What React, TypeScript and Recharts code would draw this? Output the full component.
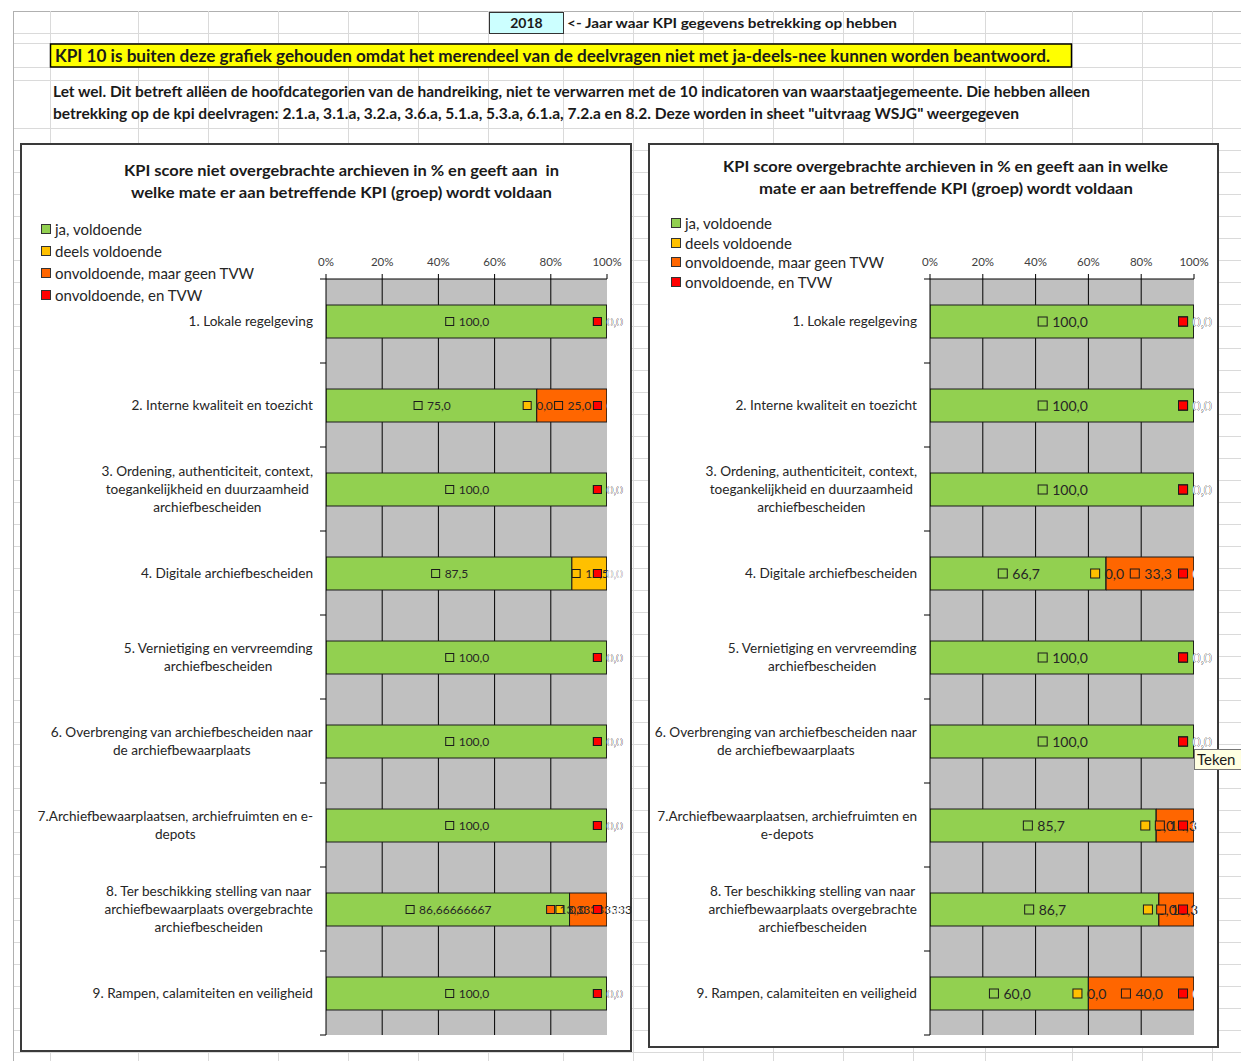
import React from 'react';
import { BarChart, Bar, XAxis, YAxis, CartesianGrid, LabelList, Legend } from 'recharts';

// ---------- data ----------
const categoriesLeft = [
  '1. Lokale regelgeving',
  '2. Interne kwaliteit en toezicht',
  '3. Ordening, authenticiteit, context,\ntoegankelijkheid en duurzaamheid\narchiefbescheiden',
  '4. Digitale archiefbescheiden',
  '5. Vernietiging en vervreemding\narchiefbescheiden',
  '6. Overbrenging van archiefbescheiden naar\nde archiefbewaarplaats',
  '7.Archiefbewaarplaatsen, archiefruimten en e-\ndepots',
  '8. Ter beschikking stelling van naar\narchiefbewaarplaats overgebrachte\narchiefbescheiden',
  '9. Rampen, calamiteiten en veiligheid',
];
const categoriesRight = [
  '1. Lokale regelgeving',
  '2. Interne kwaliteit en toezicht',
  '3. Ordening, authenticiteit, context,\ntoegankelijkheid en duurzaamheid\narchiefbescheiden',
  '4. Digitale archiefbescheiden',
  '5. Vernietiging en vervreemding\narchiefbescheiden',
  '6. Overbrenging van archiefbescheiden naar\nde archiefbewaarplaats',
  '7.Archiefbewaarplaatsen, archiefruimten en\ne-depots',
  '8. Ter beschikking stelling van naar\narchiefbewaarplaats overgebrachte\narchiefbescheiden',
  '9. Rampen, calamiteiten en veiligheid',
];

const jaLeft = [100, 75, 100, 87.5, 100, 100, 100, 86.66666667, 100];
const deelsLeft = [0, 0, 0, 12.5, 0, 0, 0, 0, 0];
const onvLeft = [0, 25, 0, 0, 0, 0, 0, 13.33333333, 0];
const tvwLeft = [0, 0, 0, 0, 0, 0, 0, 0, 0];

const jaRight = [100, 100, 100, 66.7, 100, 100, 85.7, 86.7, 60];
const deelsRight = [0, 0, 0, 0, 0, 0, 0, 0, 0];
const onvRight = [0, 0, 0, 33.3, 0, 0, 14.3, 13.3, 40];
const tvwRight = [0, 0, 0, 0, 0, 0, 0, 0, 0];

const seriesKeys = ['ja', 'deels', 'onv', 'tvw'];
const seriesNames = ['ja, voldoende', 'deels voldoende', 'onvoldoende, maar geen TVW', 'onvoldoende, en TVW'];
const seriesColors = ['#92d050', '#ffc000', '#ff6600', '#ff0000'];
const labelTextColors = ['#262626', '#262626', '#262626', '#ffffff'];

const axisTicks = [0, 20, 40, 60, 80, 100];
const gridValues = [20, 40, 60, 80];

const titleLeft = ['KPI score niet overgebrachte archieven in % en geeft aan  in', 'welke mate er aan betreffende KPI (groep) wordt voldaan'];
const titleRight = ['KPI score overgebrachte archieven in % en geeft aan in welke', 'mate er aan betreffende KPI (groep) wordt voldaan'];

const yearText = '2018';
const yearNote = '<- Jaar waar KPI gegevens betrekking op hebben';
const kpiNote = 'KPI 10 is buiten deze grafiek gehouden omdat het merendeel van de deelvragen niet met ja-deels-nee kunnen worden beantwoord.';
const noteLines = [
  'Let wel. Dit betreft allëen de hoofdcategorien van de handreiking, niet te verwarren met de 10 indicatoren van waarstaatjegemeente. Die hebben alleen',
  'betrekking op de kpi deelvragen: 2.1.a, 3.1.a, 3.2.a, 3.6.a, 5.1.a, 5.3.a, 6.1.a, 7.2.a en 8.2. Deze worden in sheet "uitvraag WSJG" weergegeven',
];
const tooltipText = 'Teken';

const buildRows = (cats: string[], a: number[], b: number[], c: number[], d: number[]) =>
  cats.map((name, i) => ({ name, ja: a[i], deels: b[i], onv: c[i], tvw: d[i] }));

const rowsLeft = buildRows(categoriesLeft, jaLeft, deelsLeft, onvLeft, tvwLeft);
const rowsRight = buildRows(categoriesRight, jaRight, deelsRight, onvRight, tvwRight);

// ---------- helpers ----------
const FONT = 'Lato, "DejaVu Sans", sans-serif';
let ctx: any = null;
function measure(text: string, font: string) {
  if (!ctx) ctx = document.createElement('canvas').getContext('2d');
  ctx.font = font;
  return ctx.measureText(text).width;
}

function fmt(v: number) {
  const r = Math.round(v * 10);
  const s = Math.abs(v * 10 - r) < 1e-6 ? v.toFixed(1) : String(v);
  return s.replace('.', ',');
}

function makeLabel(color: string, textColor: string, fs: number, sq: number) {
  return (props: any) => {
    const vb = props.viewBox || {};
    const x = Number(props.x ?? vb.x);
    const y = Number(props.y ?? vb.y);
    const w = Number(props.width ?? vb.width ?? 0);
    const h = Number(props.height ?? vb.height ?? 0);
    let v: any = props.value;
    if (Array.isArray(v)) v = v[1] - v[0];
    const text = fmt(Number(v));
    const gap = 5;
    const tw = measure(text, `${fs}px Lato`);
    const total = sq + gap + tw;
    const cx = x + w / 2 + 1;
    const cy = y + h / 2;
    const left = cx - total / 2;
    return (
      <g>
        <rect x={left} y={cy - sq / 2} width={sq} height={sq} fill={color} stroke="#1a1a1a" strokeWidth={1} />
        <text x={left + sq + gap} y={cy + fs * 0.36} fontSize={fs} fill={textColor} fontFamily={FONT}>
          {text}
        </text>
      </g>
    );
  };
}

function CategoryTick(props: any) {
  const { x, y, payload, index, fontSize, bandHalf, lineH } = props;
  const lines = String(payload.value).split('\n');
  const font = `${fontSize}px Lato`;
  const maxW = Math.max(...lines.map((l) => measure(l, font)));
  const right = x - 5;
  const cx = right - maxW / 2;
  const startY = y - ((lines.length - 1) * lineH) / 2;
  const axisX = x + 8;
  return (
    <g>
      {index === 0 && <line x1={axisX - 6} x2={axisX} y1={y - bandHalf} y2={y - bandHalf} stroke="#000" />}
      <line x1={axisX - 6} x2={axisX} y1={y + bandHalf} y2={y + bandHalf} stroke="#000" />
      <text textAnchor="middle" fontSize={fontSize} fill="#262626" fontFamily={FONT}>
        {lines.map((l, i) => (
          <tspan key={i} x={cx} y={startY + i * lineH + fontSize * 0.36}>
            {l}
          </tspan>
        ))}
      </text>
    </g>
  );
}

function LegendBox(props: any) {
  const { payload, fontSize, rowH } = props;
  const items = [...(payload || [])].sort((a: any, b: any) => seriesNames.indexOf(a.value) - seriesNames.indexOf(b.value));
  return (
    <div>
      {items.map((p: any, i: number) => (
        <div
          key={i}
          style={{
            display: 'flex',
            alignItems: 'center',
            height: rowH,
            fontSize,
            fontFamily: FONT,
            color: '#262626',
            whiteSpace: 'nowrap',
          }}
        >
          <span
            style={{
              display: 'inline-block',
              width: 8,
              height: 8,
              background: p.color,
              border: '1px solid #333',
              marginRight: 4,
            }}
          />
          {p.value}
        </div>
      ))}
    </div>
  );
}

type PanelProps = {
  rows: any[];
  width: number;
  height: number;
  yWidth: number;
  margin: any;
  labelFs: number;
  sq: number;
  legendPos: { left: number; top: number };
  legendFs: number;
  legendRowH: number;
  catFs: number;
};

function Panel(p: PanelProps) {
  const plotH = p.height - p.margin.top - 30 - p.margin.bottom;
  const bandHalf = plotH / p.rows.length / 2;
  return (
    <BarChart width={p.width} height={p.height} data={p.rows} layout="vertical" margin={p.margin} barSize={33}>
      <CartesianGrid
        horizontal={false}
        vertical={true}
        verticalValues={gridValues}
        stroke="#000"
        strokeWidth={1}
        fill="#c0c0c0"
        fillOpacity={1}
      />
      <XAxis
        type="number"
        orientation="top"
        domain={[0, 100]}
        ticks={axisTicks}
        interval={0}
        height={30}
        tickSize={5}
        tickMargin={8}
        tickFormatter={(v: number) => `${v}%`}
        axisLine={{ stroke: '#000' }}
        tickLine={{ stroke: '#000' }}
        tick={{ fontSize: 11.5, fill: '#404040', fontFamily: FONT }}
        allowDataOverflow={true}
      />
      <YAxis
        type="category"
        dataKey="name"
        width={p.yWidth}
        interval={0}
        tickSize={6}
        tickMargin={2}
        tickLine={false}
        axisLine={{ stroke: '#000' }}
        tick={(tp: any) => <CategoryTick {...tp} fontSize={p.catFs} bandHalf={bandHalf} lineH={18} />}
      />
      <Legend
        layout="horizontal"
        verticalAlign="middle"
        align="center"
        wrapperStyle={{ left: p.legendPos.left, top: p.legendPos.top, width: 260 }}
        content={(lp: any) => <LegendBox {...lp} fontSize={p.legendFs} rowH={p.legendRowH} />}
      />
      {seriesKeys.map((k, i) => (
        <Bar
          key={k}
          dataKey={k}
          name={seriesNames[i]}
          stackId="s"
          fill={seriesColors[i]}
          stroke="#1a1a1a"
          strokeWidth={1}
          minPointSize={0.5}
          isAnimationActive={false}
        >
          <LabelList dataKey={k} content={makeLabel(seriesColors[i], labelTextColors[i], p.labelFs, p.sq)} />
        </Bar>
      ))}
    </BarChart>
  );
}

const hLines = [11, 33, 43, 67, 80, 128, 150, 172, 194, 216, 238, 260, 282, 304, 326, 348, 370, 392, 414, 436, 458, 480, 502, 524, 546, 568, 590, 612, 634, 656, 678, 700, 722, 744, 766, 788, 810, 832, 854, 876, 898, 920, 942, 964, 986, 1008, 1030, 1052];
const vLines = [13, 50, 138, 208, 278, 348, 418, 488, 563, 633, 703, 773, 843, 913, 985, 1072, 1142, 1212];

export default function App() {
  return (
    <div style={{ position: 'absolute', left: 0, top: 0, width: 1241, height: 1061, background: '#fff', overflow: 'hidden', fontFamily: FONT }}>
      {/* spreadsheet grid + header */}
      <svg width={1241} height={1061} style={{ position: 'absolute', left: 0, top: 0 }}>
        {hLines.map((y) => (
          <line key={'h' + y} x1={13} x2={1241} y1={y + 0.5} y2={y + 0.5} stroke={y === 11 ? '#b0b0b0' : '#dadada'} strokeWidth={1} />
        ))}
        {vLines.map((x) => (
          <line key={'v' + x} x1={x + 0.5} x2={x + 0.5} y1={11} y2={1061} stroke={x === 13 ? '#b0b0b0' : '#dadada'} strokeWidth={1} />
        ))}
        <rect x={489.5} y={12.5} width={74} height={21} fill="#ccffff" stroke="#333" strokeWidth={1} />
        <text x={526.5} y={28} textAnchor="middle" fontSize={14} fontWeight="bold" fill="#1a1a1a" fontFamily={FONT}>
          {yearText}
        </text>
        <text x={567} y={28} fontSize={14} fontWeight="bold" fill="#1a1a1a" fontFamily={FONT} textLength={330} lengthAdjust="spacingAndGlyphs">
          {yearNote}
        </text>
        <rect x={50.5} y={44} width={1021} height={23} fill="#ffff00" stroke="#000" strokeWidth={1.5} />
        <text x={55} y={62} fontSize={16.5} fontWeight="bold" fill="#1a1a1a" fontFamily={FONT} textLength={995} lengthAdjust="spacingAndGlyphs">
          {kpiNote}
        </text>
        <text x={53} y={97} fontSize={15} fontWeight="bold" fill="#1a1a1a" fontFamily={FONT} textLength={1037} lengthAdjust="spacingAndGlyphs">
          {noteLines[0]}
        </text>
        <text x={53} y={119} fontSize={15} fontWeight="bold" fill="#1a1a1a" fontFamily={FONT} textLength={966} lengthAdjust="spacingAndGlyphs">
          {noteLines[1]}
        </text>
      </svg>

      {/* chart frames */}
      <div style={{ position: 'absolute', left: 20, top: 143, width: 612, height: 909, boxSizing: 'border-box', border: '2px solid #3a3a3a', background: '#fff' }} />
      <div style={{ position: 'absolute', left: 648, top: 143, width: 571, height: 905, boxSizing: 'border-box', border: '2px solid #3a3a3a', background: '#fff' }} />

      <div style={{ position: 'absolute', left: 20, top: 143 }}>
        <Panel
          rows={rowsLeft}
          width={612}
          height={909}
          yWidth={295}
          margin={{ top: 106, left: 11, right: 25, bottom: 17 }}
          labelFs={12}
          sq={8}
          legendPos={{ left: 21, top: 75 }}
          legendFs={15}
          legendRowH={22}
          catFs={13.6}
        />
      </div>
      <div style={{ position: 'absolute', left: 648, top: 143 }}>
        <Panel
          rows={rowsRight}
          width={571}
          height={905}
          yWidth={272}
          margin={{ top: 106, left: 10, right: 25, bottom: 13 }}
          labelFs={14}
          sq={9}
          legendPos={{ left: 23, top: 70 }}
          legendFs={15}
          legendRowH={19.7}
          catFs={13.6}
        />
      </div>

      {/* titles + tooltip overlay */}
      <svg width={1241} height={1061} style={{ position: 'absolute', left: 0, top: 0, pointerEvents: 'none' }}>
        <text x={124} y={176} fontSize={15} fontWeight="bold" fill="#1a1a1a" fontFamily={FONT} style={{ whiteSpace: 'pre' }} textLength={435} lengthAdjust="spacingAndGlyphs">
          {titleLeft[0]}
        </text>
        <text x={131} y={198} fontSize={15} fontWeight="bold" fill="#1a1a1a" fontFamily={FONT} textLength={421} lengthAdjust="spacingAndGlyphs">
          {titleLeft[1]}
        </text>
        <text x={723} y={172} fontSize={15} fontWeight="bold" fill="#1a1a1a" fontFamily={FONT} textLength={445} lengthAdjust="spacingAndGlyphs">
          {titleRight[0]}
        </text>
        <text x={759} y={194} fontSize={15} fontWeight="bold" fill="#1a1a1a" fontFamily={FONT} textLength={374} lengthAdjust="spacingAndGlyphs">
          {titleRight[1]}
        </text>
        <rect x={1194.5} y={749.5} width={60} height={20} fill="#ffffe1" stroke="#767676" strokeWidth={1} />
        <text x={1197} y={765} fontSize={15} fill="#1a1a1a" fontFamily={FONT}>
          {tooltipText}
        </text>
      </svg>
    </div>
  );
}
